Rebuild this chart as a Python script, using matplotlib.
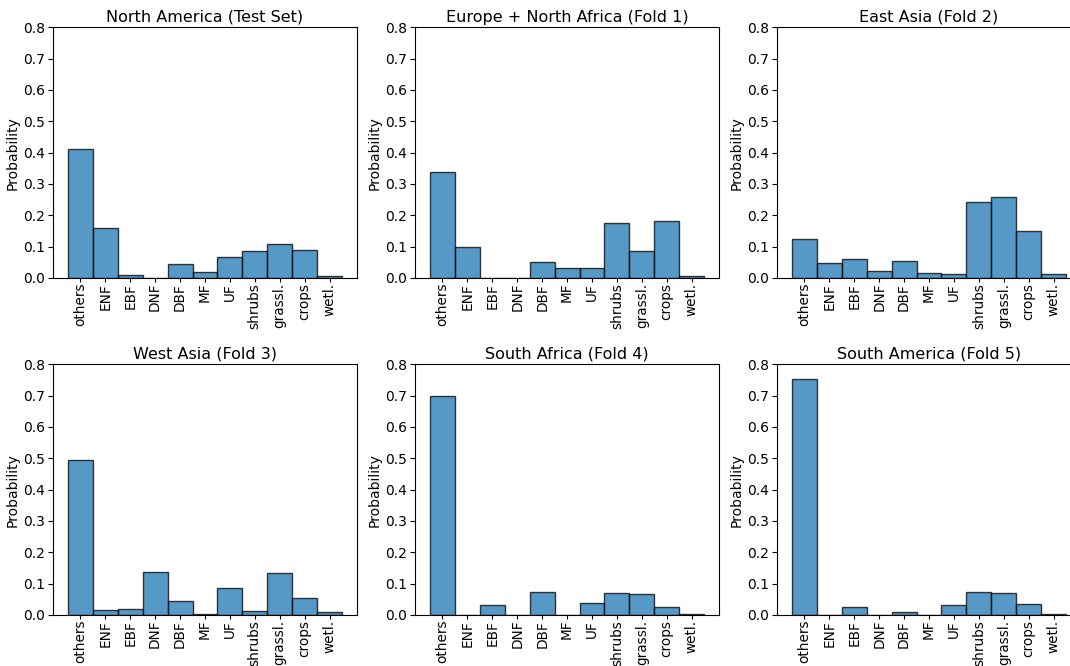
import numpy as np
import matplotlib
matplotlib.use("Agg")
import matplotlib.pyplot as plt

# land cover classes on the x axis
classes = ["others", "ENF", "EBF", "DNF", "DBF", "MF", "UF",
           "shrubs", "grassl.", "crops", "wetl."]

titles = ["North America (Test Set)", "Europe + North Africa (Fold 1)",
          "East Asia (Fold 2)", "West Asia (Fold 3)",
          "South Africa (Fold 4)", "South America (Fold 5)"]

# probabilities
north_america = [0.411, 0.159, 0.010, 0.0, 0.044, 0.019, 0.067, 0.086, 0.107, 0.089, 0.005]
europe_nafrica = [0.337, 0.099, 0.0, 0.0, 0.050, 0.033, 0.033, 0.174, 0.085, 0.181, 0.006]
east_asia = [0.123, 0.047, 0.061, 0.023, 0.054, 0.015, 0.013, 0.241, 0.259, 0.150, 0.013]
west_asia = [0.494, 0.015, 0.018, 0.136, 0.046, 0.002, 0.086, 0.012, 0.135, 0.053, 0.011]
south_africa = [0.698, 0.0, 0.032, 0.0, 0.072, 0.0, 0.037, 0.070, 0.066, 0.025, 0.003]
south_america = [0.752, 0.0, 0.027, 0.0, 0.008, 0.0, 0.032, 0.073, 0.069, 0.036, 0.004]

data = [north_america, europe_nafrica, east_asia,
        west_asia, south_africa, south_america]

fig = plt.figure(figsize=(10.7, 6.66), dpi=100)

# axes boxes (right column runs past the image edge, as in the original crop)
lefts = [0.0495, 0.3879, 0.7262]
bottoms = [0.5826, 0.0766]
w, h = 0.2841, 0.3765

x = np.arange(len(classes))
yt = np.arange(0, 0.81, 0.1)
for i, (vals, title) in enumerate(zip(data, titles)):
    ax = fig.add_axes([lefts[i % 3], bottoms[i // 3], w, h])
    ax.bar(x, vals, width=1.0, color="#1f77b4", alpha=0.75,
           edgecolor="black", linewidth=1.0)
    ax.set_xlim(-1.1, 11.1)
    ax.set_ylim(0, 0.8)
    ax.set_xticks(x)
    ax.set_xticklabels(classes, rotation=90, fontsize=9.8)
    ax.tick_params(axis="x", pad=0.5, length=3)
    ax.set_yticks(yt)
    ax.set_yticklabels(["%.1f" % v for v in yt], fontsize=10)
    ax.tick_params(axis="y", pad=2.5)
    ax.set_ylabel("Probability", fontsize=10, labelpad=2)
    ax.set_title(title, fontsize=11.5, pad=4)

fig.savefig("out.png", dpi=100)
